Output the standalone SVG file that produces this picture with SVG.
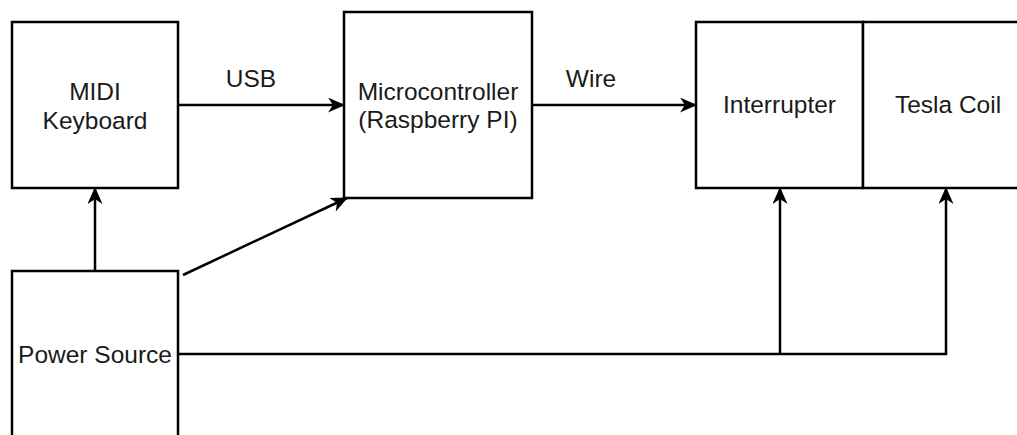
<svg xmlns="http://www.w3.org/2000/svg" width="1017" height="435" viewBox="0 0 1017 435">
<style>
.box{fill:#fff;stroke:#000;stroke-width:2.5}
.lbl{font-family:"Liberation Sans",Arial,sans-serif;font-size:24.5px;fill:#1a1a1a;text-anchor:middle}
.edge{fill:none;stroke:#000;stroke-width:2.5}
</style>
<defs>
<marker id="arr" viewBox="0 0 17 15" refX="16" refY="7.5" markerWidth="17" markerHeight="15" markerUnits="userSpaceOnUse" orient="auto">
<path d="M0,0 L17,7.5 L0,15 L5,7.5 z" fill="#000"/>
</marker>
</defs>
<rect width="1017" height="435" fill="#fff"/>
<g id="midi">
<rect class="box" x="12" y="22" width="166" height="166"/>
<text class="lbl" x="95" y="100">MIDI</text>
<text class="lbl" x="95" y="129">Keyboard</text>
</g>
<g id="micro">
<rect class="box" x="344" y="12" width="188" height="186"/>
<text class="lbl" x="438" y="100">Microcontroller</text>
<text class="lbl" x="438" y="128">(Raspberry PI)</text>
</g>
<g id="interrupter">
<rect class="box" x="696" y="22" width="167" height="166"/>
<text class="lbl" x="779.5" y="113">Interrupter</text>
</g>
<g id="tesla">
<rect class="box" x="863" y="22" width="170" height="166"/>
<text class="lbl" x="948" y="113">Tesla Coil</text>
</g>
<g id="power">
<rect class="box" x="12" y="271" width="166" height="180"/>
<text class="lbl" x="95" y="363">Power Source</text>
</g>
<g id="connectors">
<line class="edge" x1="178" y1="105" x2="344" y2="105" marker-end="url(#arr)"/>
<text class="lbl" x="251" y="87">USB</text>
<line class="edge" x1="532" y1="105" x2="696" y2="105" marker-end="url(#arr)"/>
<text class="lbl" x="591" y="87">Wire</text>
<line class="edge" x1="95" y1="271" x2="95" y2="188" marker-end="url(#arr)"/>
<line class="edge" x1="183" y1="275" x2="347" y2="198" marker-end="url(#arr)"/>
<polyline class="edge" points="178,354 946,354 946,188" marker-end="url(#arr)"/>
<line class="edge" x1="780" y1="354" x2="780" y2="188" marker-end="url(#arr)"/>
</g>
</svg>
